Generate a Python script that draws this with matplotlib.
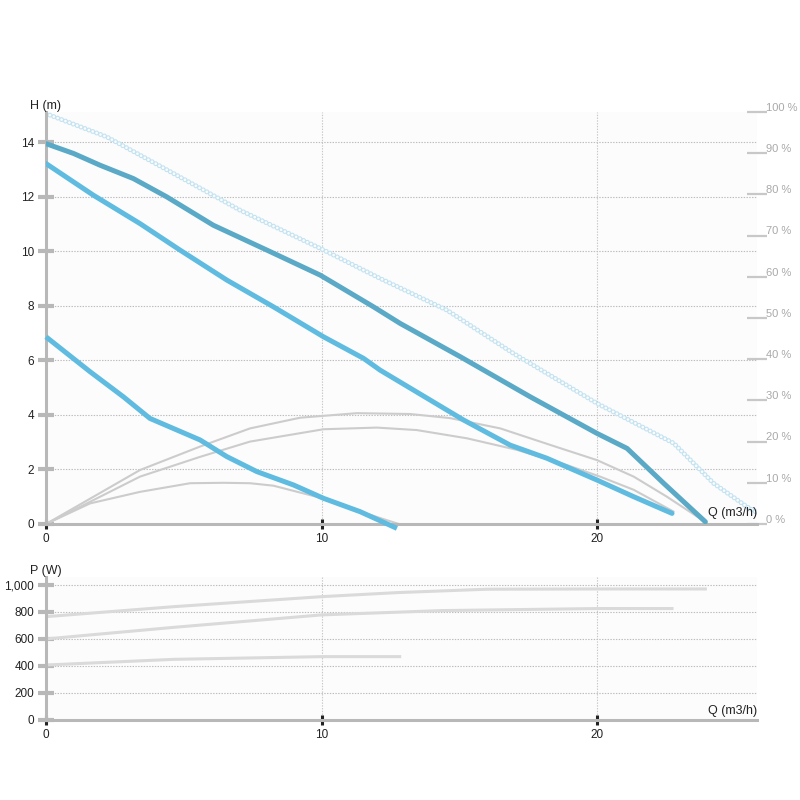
import matplotlib
matplotlib.use('Agg')
import matplotlib.pyplot as plt
import matplotlib.transforms as mtransforms

plt.rcParams['font.family'] = ['Liberation Sans', 'DejaVu Sans']
plt.rcParams['lines.scale_dashes'] = False

# ---------------- data ----------------
# Head curves H (m) vs Q (m3/h)
qA = [0.0, 1.0, 1.96, 3.17, 4.38, 6.07, 8.01, 9.95, 11.88, 12.85, 15.03, 17.57, 19.99, 21.08, 22.41, 23.92]
hA = [13.94, 13.58, 13.15, 12.66, 11.99, 10.95, 10.04, 9.12, 7.96, 7.35, 6.13, 4.66, 3.32, 2.77, 1.49, 0.08]

qB = [0.0, 1.72, 3.41, 4.86, 6.56, 8.25, 10.07, 11.52, 12.12, 15.15, 16.84, 18.17, 19.99, 21.32, 22.71]
hB = [13.21, 12.05, 11.01, 10.04, 8.94, 7.96, 6.86, 6.07, 5.64, 3.81, 2.89, 2.41, 1.61, 1.0, 0.39]

qC = [0.0, 1.6, 2.81, 3.77, 5.59, 6.56, 7.65, 8.98, 10.07, 11.4, 12.73]
hC = [6.86, 5.58, 4.66, 3.87, 3.08, 2.47, 1.92, 1.43, 0.94, 0.45, -0.16]

# Pale (maximum) curve
qM = [0.0, 2.2, 4.62, 7.04, 9.95, 12.12, 14.54, 16.96, 19.99, 22.77, 24.22, 25.43, 26.0]
hM = [15.04, 14.19, 12.85, 11.5, 10.1, 9.0, 7.84, 6.25, 4.42, 2.96, 1.49, 0.63, 0.3]

# Efficiency curves (%)
qE1 = [0.0, 3.41, 5.59, 7.4, 9.22, 11.28, 13.21, 14.66, 16.48, 18.29, 19.99, 21.32, 22.53, 23.62, 23.9]
eE1 = [0.0, 13.1, 18.8, 23.2, 25.8, 26.9, 26.7, 25.7, 23.2, 19.2, 15.5, 11.5, 6.6, 1.8, 0.8]

qE2 = [0.0, 3.41, 5.59, 7.4, 10.07, 12.0, 13.45, 15.27, 17.08, 18.9, 20.1, 21.32, 22.77]
eE2 = [0.0, 11.5, 16.3, 20.0, 23.0, 23.4, 22.8, 20.8, 18.0, 14.3, 11.5, 8.3, 3.0]

qE3 = [0.0, 1.6, 3.41, 5.23, 6.44, 7.4, 8.25, 9.82, 11.4, 12.8]
eE3 = [0.0, 5.0, 7.8, 9.9, 10.0, 9.9, 9.3, 6.6, 3.0, 0.0]

# Power curves P (W)
qP1 = [0.0, 4.64, 10.0, 12.74, 15.99, 20.0, 23.92]
pP1 = [765, 839, 913, 943, 968, 970, 970]

qP2 = [0.0, 4.64, 10.0, 14.37, 20.0, 22.71]
pP2 = [600, 686, 778, 810, 825, 825]

qP3 = [0.0, 4.64, 10.0, 12.83]
pP3 = [407, 449, 469, 469]

x_ticks = [0, 10, 20]
h_ticks = [0, 2, 4, 6, 8, 10, 12, 14]
p_ticks = [0, 200, 400, 600, 800, 1000]
pct_ticks = [0, 10, 20, 30, 40, 50, 60, 70, 80, 90, 100]
pct_labels = ['%d %%' % v for v in pct_ticks]
p_labels = ['0', '200', '400', '600', '800', '1,000']

# ---------------- style ----------------
BG = '#fcfcfc'
SPINE = '#b8b8b8'
GRID = '#c8c8c8'
DARK = '#5aa9c6'
LIGHT = '#5fbbe0'
EFF = '#cccccc'
PWR = '#dadada'
PALE = '#c4e3f1'
XMAX = 25.8

fig = plt.figure(figsize=(8, 8), dpi=100)
fig.patch.set_facecolor('white')


def style_axes(ax, yticks, ylabels):
    ax.set_facecolor(BG)
    for s in ['top', 'right']:
        ax.spines[s].set_visible(False)
    for s in ['left', 'bottom']:
        ax.spines[s].set_color(SPINE)
        ax.spines[s].set_linewidth(2.2)
    ax.set_xlim(0, XMAX)
    ax.set_xticks(x_ticks)
    ax.set_xticklabels([str(v) for v in x_ticks])
    ax.set_yticks(yticks)
    ax.set_yticklabels(ylabels)
    ax.tick_params(axis='x', direction='inout', length=7, width=2.2, color='#222222',
                   labelsize=8.5, pad=3, labelcolor='#222222')
    ax.tick_params(axis='y', direction='inout', length=11, width=3, color=SPINE,
                   labelsize=8.5, pad=3, labelcolor='#222222')
    for v in x_ticks[1:]:
        ax.axvline(v, color=GRID, lw=0.8, ls=(0, (1, 1)), zorder=0.5)
    for v in yticks[1:]:
        ax.axhline(v, color='#bdbdbd', lw=0.8, ls=(0, (1, 1)), zorder=0.5)


# ---------------- top chart ----------------
ax = fig.add_axes([0.0575, 0.345, 0.889, 0.515])
style_axes(ax, h_ticks, [str(v) for v in h_ticks])
ax.set_ylim(0, 15.1)

ax2 = ax.twinx()
ax2.set_ylim(0, 100)
for s in ax2.spines.values():
    s.set_visible(False)
ax2.set_yticks(pct_ticks)
ax2.set_yticklabels(pct_labels)
ax2.tick_params(axis='y', direction='inout', length=14, width=1.6, color='#c8c8c8',
                labelsize=8, pad=-1, labelcolor='#a9a9a9')
shift = mtransforms.ScaledTranslation(0, 3 / 72, fig.dpi_scale_trans)
for lab in ax2.get_yticklabels():
    lab.set_verticalalignment('center')
    lab.set_transform(lab.get_transform() + shift)
ax2.set_zorder(ax.get_zorder() - 1)
ax.patch.set_visible(False)
ax2.patch.set_visible(True)
ax2.patch.set_facecolor(BG)

# efficiency curves
for q, e in [(qE1, eE1), (qE2, eE2), (qE3, eE3)]:
    ax.plot(q, [v * 15.1 / 100 for v in e], color=EFF, lw=1.5, zorder=2,
            solid_capstyle='round')

# pale circle curve
ax.plot(qM, hM, color=PALE, lw=3.6, ls=(0, (0.001, 3.0)), dash_capstyle='round', zorder=1.5)
ax.plot(qM, hM, color=BG, lw=2.0, ls=(0, (0.001, 3.0)), dash_capstyle='round', zorder=1.6)

# head curves
ax.plot(qC, hC, color=LIGHT, lw=3.6, zorder=3, solid_capstyle='butt', clip_on=False)
ax.plot(qB, hB, color=LIGHT, lw=3.6, zorder=3, solid_capstyle='round')
ax.plot(qA, hA, color=DARK, lw=3.6, zorder=3, solid_capstyle='round')

ax.text(1.0, 0.012, 'Q (m3/h)', transform=ax.transAxes, ha='right', va='bottom',
        fontsize=9, color='#222222')
fig.text(0.037, 0.868, 'H (m)', fontsize=9, color='#222222', ha='left', va='center')

# ---------------- bottom chart ----------------
bx = fig.add_axes([0.0575, 0.1, 0.889, 0.179])
style_axes(bx, p_ticks, p_labels)
bx.set_ylim(0, 1060)
bx.plot(qP1, pP1, color=PWR, lw=2.2, zorder=2)
bx.plot(qP2, pP2, color=PWR, lw=2.2, zorder=2)
bx.plot(qP3, pP3, color=PWR, lw=2.2, zorder=2)
bx.text(1.0, 0.02, 'Q (m3/h)', transform=bx.transAxes, ha='right', va='bottom',
        fontsize=9, color='#222222')
fig.text(0.037, 0.286, 'P (W)', fontsize=9, color='#222222', ha='left', va='center')

fig.savefig('out.png', dpi=100)
